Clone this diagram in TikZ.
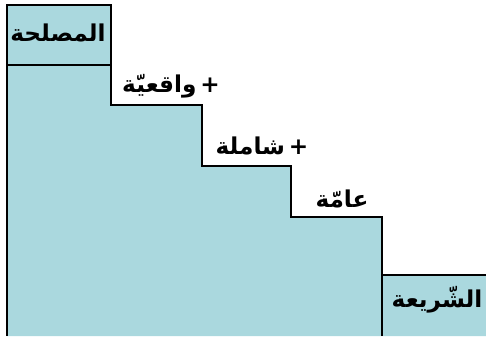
\documentclass[tikz,border=0pt]{standalone}
\usepackage{fontspec}
\newfontfamily\arabicfont[Script=Arabic]{DejaVu Sans}
\TeXXeTstate=1
\definecolor{stairblue}{RGB}{170,216,222}

\begin{document}
\begin{tikzpicture}[x=0.025cm,y=-0.025cm,
   lbl/.style={font=\arabicfont\bfseries\fontsize{16.5}{20}\selectfont, inner sep=0pt}]
   \useasboundingbox (0,0) rectangle (486,336);

   \fill[stairblue] (7,5) -- (111,5) -- (111,105) -- (202,105) -- (202,166)
      -- (291,166) -- (291,217) -- (382,217) -- (382,275) -- (486,275)
      -- (486,336) -- (7,336) -- cycle;

   \draw[line width=1.3pt] (7,336) -- (7,5) -- (111,5) -- (111,105) -- (202,105)
      -- (202,166) -- (291,166) -- (291,217) -- (382,217) -- (382,336);
   \draw[line width=1.3pt] (7,65) -- (111,65);
   \draw[line width=1.3pt] (382,275) -- (486,275);

   \node[lbl] (maslaha) at (58,33) {\beginR المصلحة\endR};
   \node[lbl] (waqia) at (171,86) {\beginR +\,واقعيّة\endR};
   \node[lbl] (shamila) at (262,146) {\beginR +\,شاملة\endR};
   \node[lbl] (amma) at (342,199) {\beginR عامّة\endR};
   \node[lbl] (sharia) at (437,300) {\beginR الشّريعة\endR};

\end{tikzpicture}
\end{document}
